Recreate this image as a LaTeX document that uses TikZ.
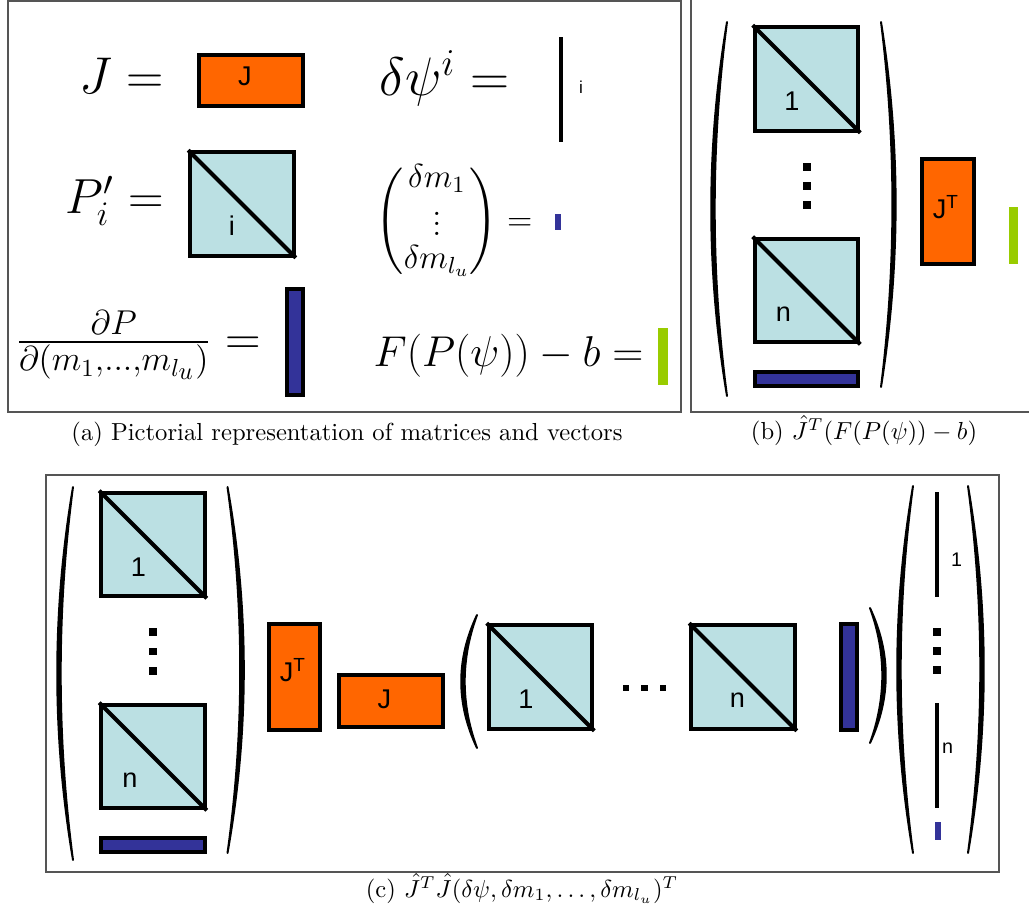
\RequirePackage{fix-cm}
\documentclass[tikz,border=0pt]{standalone}
\usepackage{amsmath}
\usepackage{fontspec}
\usepackage{xcolor}
\usepackage{tikz}
\newfontfamily\lblfont{Liberation Sans}
\definecolor{matOrange}{HTML}{FF6600}
\definecolor{matCyan}{HTML}{BBE0E3}
\definecolor{matNavy}{HTML}{333399}
\definecolor{matGreen}{HTML}{99CC00}
\definecolor{panelGray}{HTML}{555555}
% ends at x=#1, from y=#2 to y=#3, middle of the bow at x=#4
\newcommand{\drawparen}[4]{%
  \filldraw[parenfill] (#1,#2)
    .. controls ({#1+1.50*(#4-#1)},{#2+(#3-#2)/3}) and ({#1+1.50*(#4-#1)},{#2+2*(#3-#2)/3}) .. (#1,#3)
    .. controls ({#1+1.17*(#4-#1)},{#2+2*(#3-#2)/3}) and ({#1+1.17*(#4-#1)},{#2+(#3-#2)/3}) .. cycle;}

\begin{document}
\begin{tikzpicture}[
  x=0.406pt, y=-0.406pt,
  panel/.style={draw=panelGray, line width=0.6pt},
  mat/.style={draw=black, line width=1.6pt, inner sep=0pt},
  pmat/.style={mat, fill=matCyan, minimum width=1.48cm, minimum height=1.48cm},
  jmat/.style={mat, fill=matOrange, minimum width=1.48cm, minimum height=0.73cm},
  jtmat/.style={mat, fill=matOrange, minimum width=0.74cm, minimum height=1.50cm},
  dtall/.style={mat, fill=matNavy, minimum width=0.23cm, minimum height=1.50cm},
  dwide/.style={mat, fill=matNavy, minimum width=1.48cm, minimum height=0.21cm},
  dsmall/.style={fill=matNavy, inner sep=0pt, minimum width=0.086cm, minimum height=0.24cm},
  fvec/.style={fill=matGreen, inner sep=0pt, minimum width=0.14cm, minimum height=0.81cm},
  diag/.style={line width=1.6pt},
  vline/.style={line width=1.7pt},
  parenfill/.style={fill=black, draw=black, line width=0.8pt, line join=round},
  dotsq/.style={fill=black, inner sep=0pt, minimum size=0.11cm},
  hdotsq/.style={fill=black, inner sep=0pt, minimum size=0.09cm},
  lbl/.style={font=\lblfont\fontsize{11}{13}\selectfont, inner sep=0pt},
  slbl/.style={font=\lblfont\fontsize{8}{10}\selectfont, inner sep=0pt},
  eqn/.style={inner sep=0pt, anchor=base east},
  captxt/.style={inner sep=0pt, anchor=base}
]
\useasboundingbox (0,0) rectangle (1029,911);

% Panel frames
\draw[panel] (8,0.8) rectangle (681,412);
\draw[panel] (691,-3) rectangle (1040,412);
\draw[panel] (46,475) rectangle (999,872);

% (a) Symbols
\node[eqn, font=\fontsize{21}{25}\selectfont] (eqJ) at (164,93) {$J =$};
\node[jmat] (aJ) at (251,80.5) {};
\node[lbl] (aJlbl) at (245,76) {J};

\node[eqn, font=\fontsize{22}{26}\selectfont] (eqPsi) at (510,95.5) {$\delta\psi^i =$};
\draw[vline] (561,37) -- (561,142);
\node[slbl, font=\lblfont\fontsize{7}{9}\selectfont] (aPsilbl) at (581,87.5) {i};

\node[eqn, font=\fontsize{20}{24}\selectfont] (eqP) at (164,213) {$P_i' =$};
\node[pmat] (aP) at (242,204) {};
\draw[diag] (aP.north west) -- (aP.south east);
\node[lbl] (aPlbl) at (232,226) {i};

\node[eqn, font=\fontsize{13.5}{13.5}\selectfont] (eqM) at (533,230) {$\begin{pmatrix}\delta m_1\\ \vdots\\ \delta m_{l_u}\end{pmatrix} =$};
\node[dsmall] (aM) at (558,222) {};

\node[eqn, font=\fontsize{20}{24}\selectfont] (eqDP) at (261,354) {$\frac{\partial P}{\partial(m_1,...,m_{l_u})} =$};
\node[dtall] (aDP) at (295,342) {};

\node[eqn, font=\fontsize{17.5}{21}\selectfont] (eqF) at (644,366) {$F(P(\psi)) - b =$};
\node[fvec] (aF) at (663,356.5) {};

\node[captxt] (capA) at (347,440) {(a) Pictorial representation of matrices and vectors};

% (b) J^T times residual
\drawparen{727}{22}{396}{713}
\drawparen{881}{22}{387}{894}

\node[pmat] (bP1) at (806.5,79) {};
\draw[diag] (bP1.north west) -- (bP1.south east);
\node[lbl] (bP1lbl) at (792,101) {1};
\node[dotsq] (bdot1) at (807,167) {};
\node[dotsq] (bdot2) at (807,186) {};
\node[dotsq] (bdot3) at (807,205) {};
\node[pmat] (bPn) at (806.5,290.5) {};
\draw[diag] (bPn.north west) -- (bPn.south east);
\node[lbl] (bPnlbl) at (783.5,314.5) {n};
\node[dwide] (bDP) at (806.5,379) {};

\node[jtmat] (bJT) at (948,211.5) {};
\node[lbl] (bJTlbl) at (946,207) {J\textsuperscript{T}};
\node[fvec] (bF) at (1013.5,235.5) {};

\node[captxt] (capB) at (864,439) {(b) $\hat{J}^T(F(P(\psi)) - b)$};

% (c) J^T J times update
\drawparen{73}{487}{860}{59}
\drawparen{227.5}{487}{853}{242}

\node[pmat] (cP1) at (153,544.5) {};
\draw[diag] (cP1.north west) -- (cP1.south east);
\node[lbl] (cP1lbl) at (138.5,567) {1};
\node[dotsq] (cdot1) at (153,632) {};
\node[dotsq] (cdot2) at (153,651.5) {};
\node[dotsq] (cdot3) at (153,671) {};
\node[pmat] (cPn) at (153,756.5) {};
\draw[diag] (cPn.north west) -- (cPn.south east);
\node[lbl] (cPnlbl) at (130,780) {n};
\node[dwide] (cDP) at (153,845) {};

\node[jtmat] (cJT) at (294.5,677) {};
\node[lbl] (cJTlbl) at (293,670) {J\textsuperscript{T}};
\node[jmat] (cJ) at (391,701) {};
\node[lbl] (cJlbl) at (384.5,699) {J};

\drawparen{477}{615}{748}{463}
\node[pmat] (cQ1) at (540.5,677) {};
\draw[diag] (cQ1.north west) -- (cQ1.south east);
\node[lbl] (cQ1lbl) at (526,699) {1};
\node[hdotsq] (chdot1) at (626,688) {};
\node[hdotsq] (chdot2) at (644.5,688) {};
\node[hdotsq] (chdot3) at (663,688) {};
\node[pmat] (cQn) at (743,677) {};
\draw[diag] (cQn.north west) -- (cQn.south east);
\node[lbl] (cQnlbl) at (737.5,700.5) {n};
\node[dtall] (cDPt) at (849,677) {};
\drawparen{870}{608}{743}{884}

\drawparen{913}{486}{853}{899}
\drawparen{968}{486}{853}{982}
\draw[vline] (937,492) -- (937,597);
\node[slbl] (cv1lbl) at (956.5,560) {1};
\node[dotsq] (cvdot1) at (937,632) {};
\node[dotsq] (cvdot2) at (937,651) {};
\node[dotsq] (cvdot3) at (937,670) {};
\draw[vline] (937,703) -- (937,808);
\node[slbl] (cvnlbl) at (947.5,748) {n};
\node[dsmall, minimum height=0.26cm] (cM) at (938,831) {};

\node[captxt] (capC) at (522,897) {(c) $\hat{J}^T\hat{J}(\delta\psi, \delta m_1, \ldots, \delta m_{l_u})^T$};

\end{tikzpicture}
\end{document}
